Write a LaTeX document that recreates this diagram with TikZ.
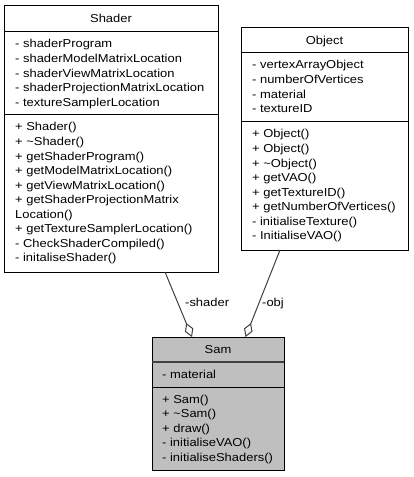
\documentclass[tikz,border=0pt]{standalone}
\usepackage{fontspec}
\setmainfont{Liberation Sans}[FakeStretch=1.125]
\usetikzlibrary{arrows.meta}
\definecolor{samgray}{HTML}{BFBFBF}
\definecolor{conngray}{HTML}{404040}
\begin{document}
\begin{tikzpicture}[x=1bp,y=-1bp,
  box/.style={draw=black, line width=1bp, anchor=north west, inner sep=0pt, outer sep=0pt},
  txt/.style={anchor=base west, inner sep=0pt, font=\fontsize{11.5bp}{14.55bp}\selectfont},
  ttl/.style={anchor=base, inner sep=0pt, font=\fontsize{11.5bp}{14.55bp}\selectfont},
  sep/.style={line width=1bp},
  conn/.style={draw=conngray, line width=1bp, -{Diamond[fill=white, length=15bp, width=9bp, line width=1bp]}}
]
\useasboundingbox (0,0) rectangle (413,477);
\fill[white] (0,0) rectangle (413,477);

% Shader
\node[box, minimum width=214bp, minimum height=266bp] (shader) at (4,6) {};
\draw[sep] (4,32) -- (218,32);
\draw[sep] (4,115) -- (218,115);
\node[ttl] (shadert) at (111,23) {Shader};
\foreach \t [count=\i] in {- shaderProgram, - shaderModelMatrixLocation, - shaderViewMatrixLocation, - shaderProjectionMatrixLocation, - textureSamplerLocation}
  \node[txt] (sa\i) at (15,{48+14.55*(\i-1)}) {\t};
\foreach \t [count=\i] in {+ Shader(), + \textasciitilde Shader(), + getShaderProgram(), + getModelMatrixLocation(), + getViewMatrixLocation(), + getShaderProjectionMatrix, Location(), + getTextureSamplerLocation(), - CheckShaderCompiled(), - initaliseShader()}
  \node[txt] (sm\i) at (15,{131+14.55*(\i-1)}) {\t};

% Object
\node[box, minimum width=167bp, minimum height=222bp] (object) at (241,28) {};
\draw[sep] (241,53) -- (408,53);
\draw[sep] (241,122) -- (408,122);
\node[ttl] (objectt) at (324.5,44.5) {Object};
\foreach \t [count=\i] in {- vertexArrayObject, - numberOfVertices, - material, - textureID}
  \node[txt] (oa\i) at (252,{69+14.55*(\i-1)}) {\t};
\foreach \t [count=\i] in {+ Object(), + Object(), + \textasciitilde Object(), + getVAO(), + getTextureID(), + getNumberOfVertices(), - initialiseTexture(), - InitialiseVAO()}
  \node[txt] (om\i) at (252,{138+14.55*(\i-1)}) {\t};

% Sam
\node[box, fill=samgray, minimum width=132bp, minimum height=133bp] (sam) at (152,337) {};
\draw[line width=2bp, draw=conngray] (152,362) -- (284,362);
\draw[sep] (152,387) -- (284,387);
\node[ttl] (samt) at (218,353.5) {Sam};
\node[txt] (ta1) at (162,378) {- material};
\foreach \t [count=\i] in {+ Sam(), + \textasciitilde Sam(), + draw(), - initialiseVAO(), - initialiseShaders()}
  \node[txt] (tm\i) at (162,{403+14.55*(\i-1)}) {\t};

% Connectors
\draw[conn] ([xshift=54bp]shader.south) -- ([xshift=-26bp]sam.north);
\draw[conn] ([xshift=-44.5bp]object.south) -- ([xshift=27.5bp]sam.north);
\node[txt] (lshader) at (185,306) {-shader};
\node[txt] (lobj) at (262,306) {-obj};
\end{tikzpicture}
\end{document}
